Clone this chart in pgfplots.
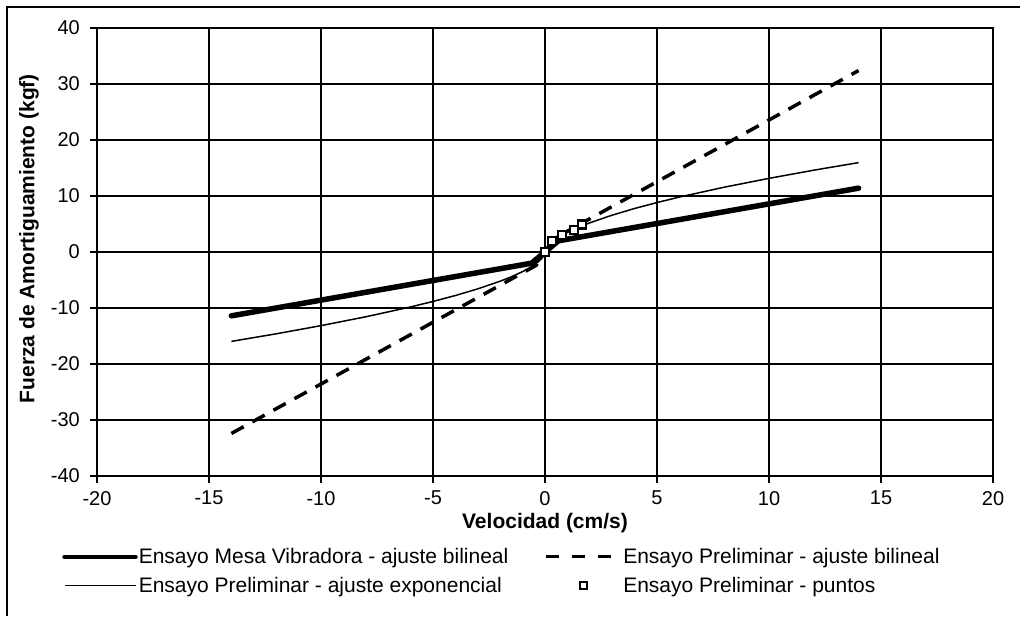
\documentclass[border=0pt]{standalone}
\usepackage{fontspec}
\setmainfont{Liberation Sans}
\usepackage{pgfplots}
\pgfplotsset{compat=1.18}
\begin{document}
\begin{tikzpicture}
\begin{axis}[
  at={(0pt,0pt)}, anchor=south west,
  width=896pt, height=448pt, scale only axis,
  xmin=-20, xmax=20, ymin=-40, ymax=40,
  xtick={-20,-15,-10,-5,0,5,10,15,20},
  ytick={-40,-30,-20,-10,0,10,20,30,40},
  grid=major,
  major grid style={black, line width=1.6pt},
  axis line style={black, line width=2.5pt},
  tick style={black, line width=2pt},
  tick align=outside, major tick length=7pt,
  tick pos=left,
  /pgf/number format/assume math mode=true,
  ticklabel style={font=\fontsize{20}{22}\selectfont, inner sep=0pt},
  yticklabel shift=10pt,
  xticklabel shift=8pt,
  every axis x label/.style={at={(axis description cs:0.5,0)}, yshift=-47pt, anchor=center, font=\fontsize{21}{23}\selectfont\bfseries},
  every axis y label/.style={at={(axis description cs:0,0.53)}, xshift=-68pt, rotate=90, anchor=center, font=\fontsize{21}{23}\selectfont\bfseries},
  xlabel={Velocidad (cm/s)},
  ylabel={Fuerza de Amortiguamiento (kgf)},
  legend columns=2,
  legend cell align=left,
  legend style={at={(axis description cs:-0.039,-0.159)}, anchor=north west, draw=none, fill=none, font=\fontsize{21}{23}\selectfont, row sep=10pt, inner sep=0pt, nodes={inner sep=1pt}},
]
\addplot[black, line width=5.5pt, line cap=round,
  legend image code/.code={\draw[black, line width=4.5pt] (0pt,0pt) -- (71pt,0pt);}]
  coordinates {(-14,-11.4) (-0.6,-2.0) (0.6,2.0) (14,11.4)};
\addlegendentry{\makebox[405pt][l]{Ensayo Mesa Vibradora - ajuste bilineal}}
\addplot[black, line width=3.5pt, dash pattern=on 14pt off 10pt,
  legend image code/.code={\path[draw=none] (0pt,0pt) -- (76pt,0pt); \draw[black, line width=3pt, dash pattern=on 13pt off 13pt] (0pt,0pt) -- (65pt,0pt);}]
  coordinates {(-14,-32.4) (-0.4,-2.4) (0.4,2.4) (14,32.4)};
\addlegendentry{Ensayo Preliminar - ajuste bilineal}
\addplot[black, line width=1.5pt,
  legend image code/.code={\draw[black, line width=1.5pt] (0pt,0pt) -- (71pt,0pt);}]
  coordinates {(-14,-15.96) (-12,-14.61) (-10,-13.15) (-8,-11.57) (-6,-9.81) (-5,-8.83) (-4,-7.77) (-3,-6.58) (-2,-5.21) (-1.5,-4.42) (-1,-3.5) (-0.7,-2.85) (-0.5,-2.35) (-0.3,-1.75) (-0.15,-1.18) (-0.05,-0.63) (-0.01,-0.25) (0,0) (0.01,0.25) (0.05,0.63) (0.15,1.18) (0.3,1.75) (0.5,2.35) (0.7,2.85) (1,3.5) (1.5,4.42) (2,5.21) (3,6.58) (4,7.77) (5,8.83) (6,9.81) (8,11.57) (10,13.15) (12,14.61) (14,15.96)};
\addlegendentry{\makebox[405pt][l]{Ensayo Preliminar - ajuste exponencial}}
\addplot[only marks, mark=square*, mark size=4pt, black, line width=2.2pt, mark options={fill=white},
  legend image code/.code={\path[draw=none] (0pt,0pt) -- (76pt,0pt); \draw[black, line width=1.8pt, fill=white, solid] (33.5pt,-3.5pt) rectangle (40.5pt,3.5pt);}]
  coordinates {(0,0) (0.3,2.0) (0.75,3.0) (1.3,4.0) (1.65,4.9)};
\addlegendentry{Ensayo Preliminar - puntos}
\end{axis}
\pgfresetboundingbox
\path[use as bounding box] (-97pt,-140pt) rectangle (923pt,476pt);
\draw[line width=1.5pt] (-90pt,-140pt) -- (-90pt,469pt) -- (923pt,469pt);
\end{tikzpicture}
\end{document}
